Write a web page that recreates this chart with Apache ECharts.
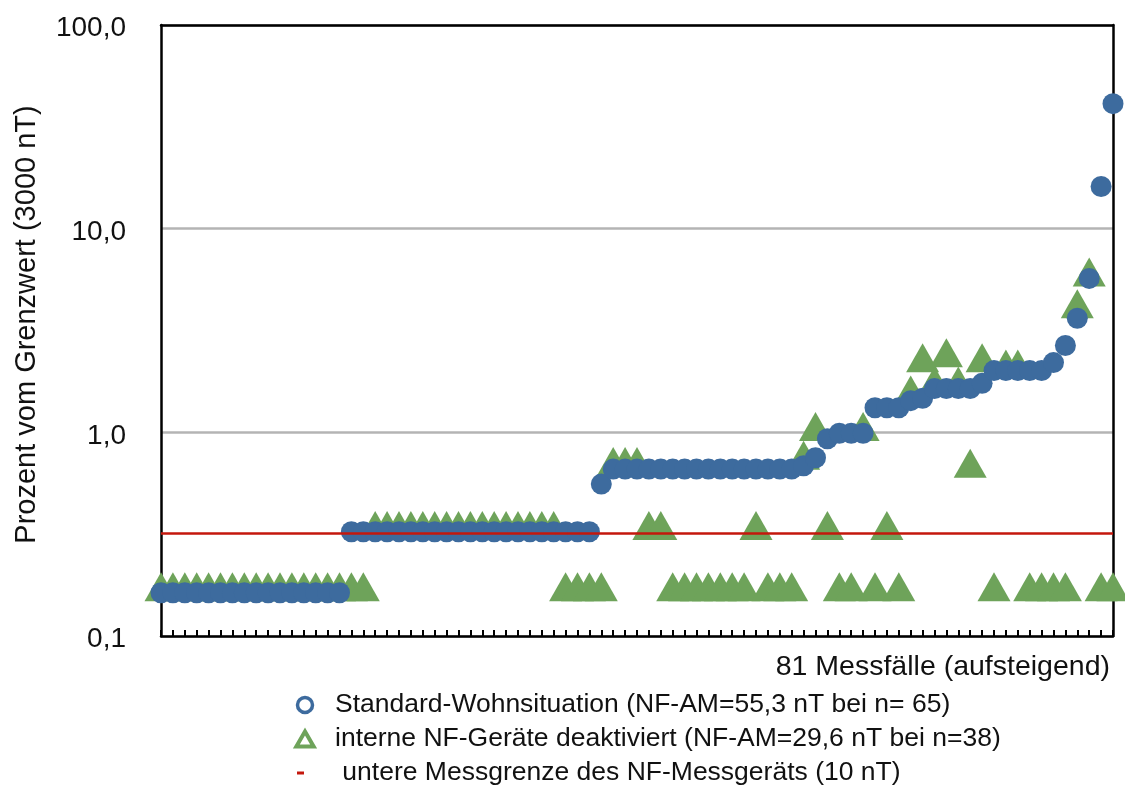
<!DOCTYPE html>
<html>
<head>
<meta charset="utf-8">
<script src="https://cdn.jsdelivr.net/npm/echarts@6/dist/echarts.min.js"></script>
<style>
html,body{margin:0;padding:0;background:#fff;}
#chart{width:1125px;height:787px;}
</style>
</head>
<body>
<div id="chart"></div>
<script>
// ---- data ----
const categories = ["1","2","3","4","5","6","7","8","9","10","11","12","13","14","15","16","17","18","19","20",
"21","22","23","24","25","26","27","28","29","30","31","32","33","34","35","36","37","38","39","40",
"41","42","43","44","45","46","47","48","49","50","51","52","53","54","55","56","57","58","59","60",
"61","62","63","64","65","66","67","68","69","70","71","72","73","74","75","76","77","78","79","80","81"];

const standardValues = [
0.163,0.163,0.163,0.163,0.163,0.163,0.163,0.163,0.163,0.163,0.163,0.163,0.163,0.163,0.163,0.163,
0.325,0.325,0.325,0.325,0.325,0.325,0.325,0.325,0.325,0.325,0.325,0.325,0.325,0.325,0.325,0.325,0.325,0.325,0.325,0.325,0.325,
0.557,
0.66,0.66,0.66,0.66,0.66,0.66,0.66,0.66,0.66,0.66,0.66,0.66,0.66,0.66,0.66,0.66,
0.685,0.75,0.93,
0.99,0.99,0.99,
1.32,1.32,1.32,
1.43,1.47,
1.64,1.64,1.64,1.64,
1.74,
2.01,2.01,2.01,2.01,2.01,
2.2,2.67,3.63,5.7,16.1,41.1];

const deaktiviertValues = [
0.165,0.165,0.165,0.165,0.165,0.165,0.165,0.165,0.165,0.165,0.165,0.165,0.165,0.165,0.165,0.165,0.165,0.165,
0.33,0.33,0.33,0.33,0.33,0.33,0.33,0.33,0.33,0.33,0.33,0.33,0.33,0.33,0.33,0.33,
0.165,0.165,0.165,0.165,
0.68,0.68,0.68,
0.33,0.33,
0.165,0.165,0.165,0.165,0.165,0.165,0.165,
0.33,
0.165,0.165,0.165,
0.73,1.01,0.33,
0.165,0.165,
1.01,0.165,0.33,0.165,
1.53,2.2,1.69,2.33,1.69,0.667,2.2,
0.165,
2.05,2.05,
0.165,0.165,0.165,0.165,
4.05,5.8,
0.165,0.165];

const messgrenze = 0.322;
const yTicks = [0.1, 1, 10, 100];

const seriesNames = [
  "Standard-Wohnsituation (NF-AM=55,3 nT bei n= 65)",
  "interne NF-Geräte deaktiviert (NF-AM=29,6 nT bei n=38)",
  "untere Messgrenze des NF-Messgeräts (10 nT)"
];
const xTitle = "81 Messfälle (aufsteigend)";
const yTitle = "Prozent vom Grenzwert (3000 nT)";

// ---- styles ----
const BLUE = '#3d6b9e';
const GREEN = '#6ea35a';
const RED = '#c4170c';
const FONT = '"Liberation Sans", Arial, Helvetica, sans-serif';
const TRI_W = 33, TRI_H = 29;

const chart = echarts.init(document.getElementById('chart'), null, {renderer: 'canvas'});

const fmt = v => '{t|' + Number(v).toFixed(1).replace('.', ',') + '}';

const option = {
  backgroundColor: '#ffffff',
  animation: false,
  textStyle: {fontFamily: FONT, color: '#111'},
  grid: {left: 161, right: 12, top: 25, bottom: 151, containLabel: false},
  legend: {
    orient: 'vertical',
    left: 280,
    top: 688,
    width: 840,
    height: 300,
    padding: 0,
    itemGap: 0,
    itemWidth: 50,
    itemHeight: 15,
    selectedMode: false,
    textStyle: {fontFamily: FONT, fontSize: 26.5, color: '#111', lineHeight: 34},
    data: [
      {name: seriesNames[0], icon: 'circle',
        itemStyle: {color: '#ffffff', borderColor: BLUE, borderWidth: 3.5}},
      {name: seriesNames[1], icon: 'path://M0,-1 L1.1547,1 L-1.1547,1 Z',
        itemStyle: {color: '#ffffff', borderColor: GREEN, borderWidth: 4}},
      {name: seriesNames[2], icon: 'path://M0,0 M50,15 M17,6 L24,6 L24,9 L17,9 Z',
        itemStyle: {color: RED, borderWidth: 0}}
    ],
    formatter: function (name) {
      return name === seriesNames[2] ? ' ' + name : name;
    }
  },
  xAxis: [
    {
      type: 'category',
      data: categories,
      boundaryGap: false,
      position: 'bottom',
      z: 1,
      axisLine: {show: true, lineStyle: {color: '#000', width: 2.5}},
      axisTick: {show: true, inside: true, length: 6, interval: 0, lineStyle: {color: '#000', width: 2}},
      axisLabel: {show: false},
      splitLine: {show: false},
      name: xTitle,
      nameLocation: 'end',
      nameGap: -3,
      nameTextStyle: {fontFamily: FONT, fontSize: 28.5, color: '#111', align: 'right', verticalAlign: 'top', padding: [17, 0, 0, 0]}
    },
    {
      type: 'category',
      data: categories,
      boundaryGap: false,
      position: 'top',
      z: 1,
      axisLine: {show: true, lineStyle: {color: '#000', width: 2.5}},
      axisTick: {show: false},
      axisLabel: {show: false},
      splitLine: {show: false}
    }
  ],
  yAxis: [
    {
      type: 'log',
      logBase: 10,
      min: yTicks[0],
      max: yTicks[yTicks.length - 1],
      position: 'left',
      axisLine: {show: true, lineStyle: {color: '#000', width: 2.5}},
      axisTick: {show: false},
      axisLabel: {
        show: true, margin: 35, formatter: fmt,
        rich: {t: {fontFamily: FONT, fontSize: 28, color: '#111', padding: [7, 0, 0, 0]}}
      },
      splitLine: {show: true, lineStyle: {color: '#b4b4b4', width: 2.5}},
      minorTick: {show: false},
      name: yTitle,
      nameLocation: 'middle',
      nameRotate: 90,
      nameGap: 120,
      nameTextStyle: {fontFamily: FONT, fontSize: 29, color: '#111', padding: [0, 0, 0, 12]}
    },
    {
      type: 'log',
      logBase: 10,
      min: yTicks[0],
      max: yTicks[yTicks.length - 1],
      position: 'right',
      z: 1,
      axisLine: {show: true, lineStyle: {color: '#000', width: 2.5}},
      axisTick: {show: false},
      axisLabel: {show: false},
      splitLine: {show: false}
    }
  ],
  series: [
    {
      name: seriesNames[0],
      type: 'scatter',
      xAxisIndex: 0, yAxisIndex: 0,
      data: standardValues,
      symbol: 'circle',
      symbolSize: 21,
      itemStyle: {color: BLUE, opacity: 1},
      z: 4
    },
    {
      name: seriesNames[1],
      type: 'scatter',
      xAxisIndex: 0, yAxisIndex: 0,
      data: deaktiviertValues,
      symbol: 'triangle',
      symbolSize: [TRI_W, TRI_H],
      symbolOffset: [0, -TRI_H / 6],
      itemStyle: {color: GREEN, opacity: 1},
      z: 3
    },
    {
      name: seriesNames[2],
      type: 'line',
      xAxisIndex: 0, yAxisIndex: 0,
      data: [],
      itemStyle: {color: RED},
      lineStyle: {color: RED},
      z: 5,
      markLine: {
        silent: true,
        symbol: ['none', 'none'],
        label: {show: false},
        lineStyle: {color: RED, width: 2.5, type: 'solid'},
        data: [{yAxis: messgrenze}],
        z: 5
      }
    }
  ]
};
chart.setOption(option);
</script>
</body>
</html>
